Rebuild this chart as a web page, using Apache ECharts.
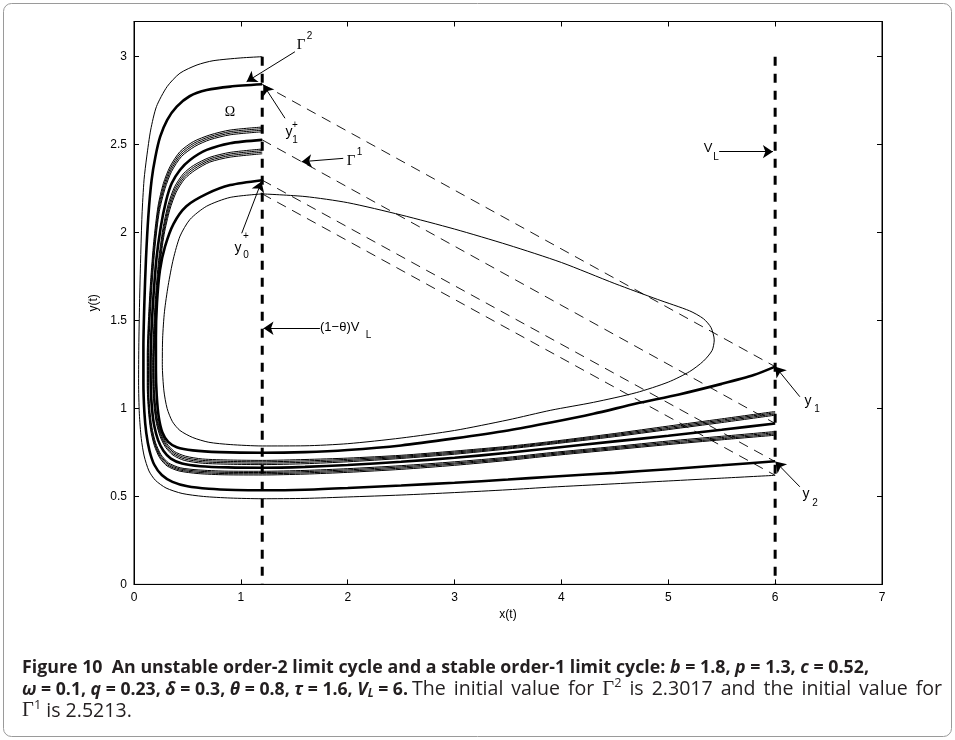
<!DOCTYPE html>
<html><head><meta charset="utf-8">
<script src="https://cdn.jsdelivr.net/npm/echarts@6/dist/echarts.min.js"></script>
<style>html,body{margin:0;padding:0;background:#fff;}#c{width:955px;height:740px;}</style>
</head><body><div id="c"></div>
<script>
// ---- axis ticks ----
const xTicks = [0, 1, 2, 3, 4, 5, 6, 7];
const yTicks = [0, 0.5, 1, 1.5, 2, 2.5, 3];

// ---- trajectories [x, y] ----
const curveOuter = [[1.2,3.0],[1.0,2.993],[0.74,2.977],[0.59,2.953],[0.43,2.906],[0.31,2.83],[0.21,2.716],[0.156,2.583],[0.119,2.43],[0.094,2.3],[0.075,2.1],[0.062,1.85],[0.052,1.6],[0.045,1.35],[0.043,1.15],[0.05,0.97],[0.068,0.83],[0.095,0.73],[0.14,0.645],[0.2,0.592],[0.3,0.548],[0.45,0.517],[0.65,0.5],[0.9,0.491],[1.2,0.487],[1.6,0.489],[2,0.497],[2.5,0.508],[3,0.522],[3.5,0.538],[3.9,0.553],[4.5,0.572],[5,0.588],[5.5,0.604],[6,0.62]];
const curveGamma2b = [[1.2,2.843],[0.9,2.83],[0.68,2.81],[0.52,2.775],[0.4,2.716],[0.31,2.64],[0.245,2.545],[0.2,2.43],[0.165,2.3],[0.135,2.1],[0.112,1.85],[0.097,1.6],[0.088,1.35],[0.088,1.15],[0.097,0.98],[0.115,0.86],[0.145,0.76],[0.19,0.68],[0.26,0.622],[0.36,0.583],[0.5,0.558],[0.7,0.544],[0.95,0.537],[1.2,0.535],[1.6,0.538],[2,0.548],[2.5,0.562],[3,0.578],[3.5,0.596],[3.9,0.612],[4.5,0.634],[5,0.655],[5.5,0.677],[6,0.70]];
const curveA1 = [[1.2,2.6],[0.9,2.583],[0.71,2.555],[0.555,2.517],[0.43,2.46],[0.337,2.375],[0.275,2.28],[0.225,2.15],[0.185,1.95],[0.155,1.72],[0.135,1.5],[0.124,1.3],[0.124,1.13],[0.135,0.99],[0.155,0.88],[0.19,0.79],[0.24,0.72],[0.31,0.673],[0.42,0.645],[0.6,0.63],[0.85,0.623],[1.2,0.622],[1.6,0.627],[2,0.637],[2.5,0.654],[3,0.677],[3.5,0.705],[3.9,0.731],[4.5,0.766],[5,0.795],[5.5,0.822],[6,0.848]];
const curveA2 = [[1.2,2.591],[0.9,2.574],[0.71,2.546],[0.56,2.508],[0.435,2.451],[0.342,2.366],[0.28,2.27],[0.229,2.14],[0.189,1.94],[0.159,1.71],[0.139,1.49],[0.128,1.3],[0.128,1.13],[0.139,0.99],[0.159,0.885],[0.194,0.795],[0.244,0.726],[0.314,0.679],[0.424,0.651],[0.6,0.637],[0.85,0.63],[1.2,0.629],[1.6,0.634],[2,0.644],[2.5,0.661],[3,0.684],[3.5,0.711],[3.9,0.737],[4.5,0.772],[5,0.801],[5.5,0.828],[6,0.855]];
const curveA3 = [[1.2,2.582],[0.9,2.565],[0.71,2.537],[0.565,2.499],[0.44,2.442],[0.347,2.357],[0.285,2.26],[0.233,2.13],[0.193,1.93],[0.163,1.7],[0.143,1.48],[0.132,1.3],[0.132,1.13],[0.143,0.995],[0.163,0.89],[0.198,0.8],[0.248,0.732],[0.318,0.685],[0.428,0.657],[0.6,0.644],[0.85,0.637],[1.2,0.636],[1.6,0.641],[2,0.651],[2.5,0.668],[3,0.69],[3.5,0.717],[3.9,0.743],[4.5,0.778],[5,0.808],[5.5,0.835],[6,0.862]];
const curveA4 = [[1.2,2.573],[0.9,2.556],[0.71,2.528],[0.57,2.49],[0.445,2.433],[0.352,2.348],[0.29,2.25],[0.237,2.12],[0.197,1.92],[0.167,1.69],[0.147,1.47],[0.136,1.3],[0.136,1.13],[0.147,1.0],[0.167,0.895],[0.202,0.805],[0.252,0.738],[0.322,0.691],[0.432,0.663],[0.6,0.651],[0.85,0.644],[1.2,0.643],[1.6,0.648],[2,0.658],[2.5,0.675],[3,0.697],[3.5,0.723],[3.9,0.749],[4.5,0.784],[5,0.815],[5.5,0.842],[6,0.869]];
const curveGamma1 = [[1.2,2.527],[0.9,2.508],[0.68,2.47],[0.524,2.413],[0.43,2.356],[0.353,2.28],[0.3,2.18],[0.25,2.03],[0.21,1.85],[0.18,1.62],[0.162,1.42],[0.155,1.25],[0.158,1.1],[0.17,0.99],[0.19,0.9],[0.225,0.82],[0.275,0.76],[0.345,0.715],[0.45,0.687],[0.62,0.672],[0.88,0.665],[1.2,0.663],[1.6,0.668],[2,0.679],[2.5,0.697],[3,0.72],[3.5,0.748],[3.9,0.774],[4.5,0.813],[5,0.845],[5.5,0.879],[6,0.915]];
const curveB1 = [[1.2,2.475],[0.9,2.456],[0.71,2.428],[0.555,2.381],[0.46,2.333],[0.38,2.26],[0.32,2.16],[0.27,2.02],[0.23,1.84],[0.2,1.62],[0.182,1.42],[0.175,1.26],[0.178,1.11],[0.19,1.0],[0.21,0.915],[0.245,0.84],[0.295,0.78],[0.365,0.735],[0.47,0.705],[0.64,0.689],[0.9,0.683],[1.2,0.681],[1.6,0.686],[2,0.697],[2.5,0.716],[3,0.74],[3.5,0.77],[3.9,0.797],[4.5,0.84],[5,0.88],[5.5,0.92],[6,0.962]];
const curveB2 = [[1.2,2.466],[0.9,2.447],[0.71,2.419],[0.56,2.372],[0.465,2.324],[0.385,2.25],[0.325,2.15],[0.274,2.01],[0.234,1.83],[0.204,1.61],[0.186,1.41],[0.179,1.26],[0.182,1.11],[0.194,1.005],[0.214,0.92],[0.249,0.846],[0.299,0.787],[0.369,0.742],[0.474,0.713],[0.64,0.697],[0.9,0.691],[1.2,0.689],[1.6,0.694],[2,0.704],[2.5,0.722],[3,0.746],[3.5,0.775],[3.9,0.802],[4.5,0.846],[5,0.886],[5.5,0.927],[6,0.969]];
const curveB3 = [[1.2,2.457],[0.9,2.438],[0.71,2.41],[0.565,2.363],[0.47,2.315],[0.39,2.24],[0.33,2.14],[0.278,2.0],[0.238,1.82],[0.208,1.6],[0.19,1.4],[0.183,1.26],[0.186,1.11],[0.198,1.01],[0.218,0.925],[0.253,0.852],[0.303,0.794],[0.373,0.749],[0.478,0.721],[0.64,0.705],[0.9,0.699],[1.2,0.697],[1.6,0.702],[2,0.711],[2.5,0.728],[3,0.752],[3.5,0.78],[3.9,0.807],[4.5,0.852],[5,0.893],[5.5,0.934],[6,0.976]];
const curveB4 = [[1.2,2.448],[0.9,2.429],[0.71,2.401],[0.57,2.354],[0.475,2.306],[0.395,2.23],[0.335,2.13],[0.282,1.99],[0.242,1.81],[0.212,1.59],[0.194,1.39],[0.187,1.26],[0.19,1.11],[0.202,1.015],[0.222,0.93],[0.257,0.858],[0.307,0.801],[0.377,0.756],[0.482,0.729],[0.64,0.713],[0.9,0.707],[1.2,0.705],[1.6,0.71],[2,0.718],[2.5,0.734],[3,0.758],[3.5,0.785],[3.9,0.812],[4.5,0.858],[5,0.9],[5.5,0.941],[6,0.983]];
const curveGamma2a = [[1.2,2.298],[0.9,2.27],[0.68,2.22],[0.49,2.15],[0.37,2.05],[0.29,1.92],[0.243,1.787],[0.215,1.6],[0.205,1.4],[0.205,1.22],[0.213,1.07],[0.232,0.95],[0.265,0.865],[0.32,0.81],[0.4,0.78],[0.55,0.762],[0.8,0.752],[1.2,0.748],[1.6,0.752],[2,0.764],[2.5,0.79],[3,0.83],[3.5,0.875],[3.9,0.92],[4.3,0.97],[4.7,1.028],[5.1,1.08],[5.5,1.14],[5.8,1.19],[6,1.238]];
const curveInner = [[1.2,2.22],[0.9,2.2],[0.68,2.15],[0.524,2.075],[0.431,1.98],[0.368,1.85],[0.32,1.7],[0.285,1.55],[0.268,1.4],[0.265,1.25],[0.28,1.1],[0.31,1.0],[0.36,0.925],[0.43,0.875],[0.55,0.835],[0.7,0.808],[0.9,0.795],[1.2,0.787],[1.6,0.788],[2,0.8],[2.5,0.832],[3,0.875],[3.5,0.935],[3.9,0.99],[4.3,1.035],[4.7,1.09],[5.0,1.15],[5.2,1.21],[5.33,1.27],[5.41,1.33],[5.43,1.39],[5.4,1.46],[5.33,1.51],[5.2,1.555],[4.9,1.62],[4.5,1.71],[4.0,1.83],[3.5,1.93],[3.0,2.02],[2.5,2.1],[2.0,2.17],[1.6,2.205],[1.2,2.22]];

// impulse jumps: from (6, jumpFrom) to (1.2, jumpTo)
const jumpX0 = 6, jumpX1 = 1.2;
const jumpFrom = [1.238, 0.915, 0.698, 0.62];
const jumpTo = [2.843, 2.527, 2.298, 2.22];

// threshold lines
const vlineX = [1.2, 6];
const vlineTop = 3.0;

// annotation arrows [tailX, tailY, tipX, tipY] in data units
const arrowList = [
  [1.506, 3.028, 1.054, 2.858],
  [1.413, 2.650, 1.210, 2.840],
  [1.958, 2.422, 1.569, 2.403],
  [1.008, 1.996, 1.193, 2.290],
  [1.740, 1.456, 1.212, 1.456],
  [5.476, 2.460, 5.979, 2.460],
  [6.231, 1.067, 6.002, 1.238],
  [6.231, 0.555, 6.002, 0.698]
];

const thin = 1, thick = 2.6;
const curves = [
  [curveOuter, thin], [curveGamma2b, thick],
  [curveA1, thin], [curveA2, thin], [curveA3, thin], [curveA4, thin],
  [curveGamma1, thick],
  [curveB1, thin], [curveB2, thin], [curveB3, thin], [curveB4, thin],
  [curveGamma2a, thick], [curveInner, thin]
];

const chart = echarts.init(document.getElementById('c'));
const series = [];
curves.forEach(function (c) {
  series.push({type: 'line', data: c[0], symbol: 'none', showSymbol: false, smooth: 0.25, silent: true,
    lineStyle: {color: '#000', width: c[1]}, z: 3});
});
jumpFrom.forEach(function (yf, i) {
  series.push({type: 'line', data: [[jumpX1, jumpTo[i]], [jumpX0, yf]], symbol: 'none', silent: true,
    lineStyle: {color: '#000', width: 0.9, type: [10, 7]}, z: 2});
});
vlineX.forEach(function (vx) {
  series.push({type: 'line', data: [[vx, vlineTop], [vx, 0]], symbol: 'none', silent: true,
    lineStyle: {color: '#000', width: 3, type: [9, 8]}, z: 4});
});
// annotation arrows
series.push({type: 'lines', coordinateSystem: 'cartesian2d', silent: true, z: 6,
  symbol: ['none', 'arrow'], symbolSize: 10,
  lineStyle: {color: '#000', width: 1, opacity: 1},
  data: arrowList.map(function (a) { return {coords: [[a[0], a[1]], [a[2], a[3]]]}; })});

const axisFont = {color: '#000', fontSize: 12, fontFamily: 'Liberation Sans'};
const option = {
  animation: false,
  backgroundColor: '#fff',
  grid: {left: 134, right: 73, top: 21.5, bottom: 155.6, show: true, borderColor: '#000', borderWidth: 1, containLabel: false},
  xAxis: [
    {type: 'value', min: xTicks[0], max: xTicks[xTicks.length - 1], interval: 1, position: 'bottom',
      axisLine: {show: true, onZero: false, lineStyle: {color: '#000'}},
      axisTick: {show: true, inside: true, length: 5, lineStyle: {color: '#000'}},
      axisLabel: Object.assign({margin: 7}, axisFont), splitLine: {show: false},
      name: 'x(t)', nameLocation: 'middle', nameGap: 23, nameTextStyle: axisFont},
    {type: 'value', min: xTicks[0], max: xTicks[xTicks.length - 1], interval: 1, position: 'top',
      axisLine: {show: true, onZero: false, lineStyle: {color: '#000'}},
      axisTick: {show: true, inside: true, length: 5, lineStyle: {color: '#000'}},
      axisLabel: {show: false}, splitLine: {show: false}}
  ],
  yAxis: [
    {type: 'value', min: yTicks[0], max: 3.2, interval: 0.5, position: 'left',
      axisLine: {show: true, onZero: false, lineStyle: {color: '#000'}},
      axisTick: {show: true, inside: true, length: 5, lineStyle: {color: '#000'}},
      axisLabel: Object.assign({margin: 7, showMaxLabel: false}, axisFont), splitLine: {show: false},
      name: 'y(t)', nameLocation: 'middle', nameGap: 25, nameRotate: 90, nameTextStyle: axisFont},
    {type: 'value', min: yTicks[0], max: 3.2, interval: 0.5, position: 'right',
      axisLine: {show: true, onZero: false, lineStyle: {color: '#000'}},
      axisTick: {show: true, inside: true, length: 5, lineStyle: {color: '#000'}},
      axisLabel: {show: false}, splitLine: {show: false}}
  ],
  series: series
};
chart.setOption(option);

// ---- text annotations ----
const sans = '"Liberation Sans", Arial, sans-serif';
const serif = '"Liberation Serif", "DejaVu Serif", serif';
function T(text, x, y, size, fam, align) {
  return {type: 'text', x: x, y: y, silent: true, z: 100,
    style: {text: text, fontSize: size, fontFamily: fam, fill: '#000', align: align || 'center', verticalAlign: 'middle'}};
}

// caption layout: widths of each run are matched to the figure
const capFam = '"Open Sans", Lato, sans-serif';
const mctx = document.createElement('canvas').getContext('2d');
function fontOf(s, size) {
  const sz = size * (s.k || 1);
  return {sz: sz, fam: s.serif ? serif : capFam,
    css: (s.it ? 'italic ' : '') + (s.bold ? 'bold ' : '') + sz + 'px ' + (s.serif ? serif : capFam)};
}
function widthAt(segs, size) {
  let w = 0;
  segs.forEach(function (s) { mctx.font = fontOf(s, size).css; w += mctx.measureText(s.t).width; });
  return w;
}
function capGroup(segs, x, y, target, size) {
  if (!size) size = 16 * target / widthAt(segs, 16);
  const natural = widthAt(segs, size);
  let nsp = 0;
  segs.forEach(function (s) { nsp += (s.t.match(/ /g) || []).length; });
  const addSp = nsp ? Math.max(0, target - natural) / nsp : 0;
  const out = [];
  let cx = x;
  segs.forEach(function (s) {
    const f = fontOf(s, size);
    mctx.font = f.css;
    const words = s.t.split(' ');
    words.forEach(function (wd, wi) {
      if (wd.length) {
        out.push({type: 'text', x: cx, y: y + (s.dy || 0) * size, silent: true, z: 100,
          style: {text: wd, fontSize: f.sz, fontFamily: f.fam, fontWeight: s.bold ? 'bold' : 'normal',
            fontStyle: s.it ? 'italic' : 'normal', fill: '#231f20', align: 'left', verticalAlign: 'middle'}});
        cx += mctx.measureText(wd).width;
      }
      if (wi < words.length - 1) cx += mctx.measureText(' ').width + addSp;
    });
  });
  return {els: out, size: size};
}
const line1 = [
  {t: 'Figure 10  An unstable order-2 limit cycle and a stable order-1 limit cycle: ', bold: 1},
  {t: 'b', bold: 1, it: 1}, {t: ' = 1.8, ', bold: 1}, {t: 'p', bold: 1, it: 1}, {t: ' = 1.3, ', bold: 1},
  {t: 'c', bold: 1, it: 1}, {t: ' = 0.52,', bold: 1}
];
const line2a = [
  {t: 'ω', bold: 1, it: 1}, {t: ' = 0.1, ', bold: 1}, {t: 'q', bold: 1, it: 1}, {t: ' = 0.23, ', bold: 1},
  {t: 'δ', bold: 1, it: 1}, {t: ' = 0.3, ', bold: 1}, {t: 'θ', bold: 1, it: 1}, {t: ' = 0.8, ', bold: 1},
  {t: 'τ', bold: 1, it: 1}, {t: ' = 1.6, ', bold: 1}, {t: 'V', bold: 1, it: 1}, {t: 'L', bold: 1, it: 1, k: 0.65, dy: 0.25},
  {t: ' = 6.', bold: 1}
];
const line2b = [
  {t: 'The initial value for '}, {t: 'Γ', serif: 1, k: 1.05}, {t: '2', k: 0.65, dy: -0.3},
  {t: ' is 2.3017 and the initial value for'}
];
const line3 = [{t: 'Γ', serif: 1, k: 1.05}, {t: '1', k: 0.65, dy: -0.3}, {t: ' is 2.5213.'}];
const g1 = capGroup(line1, 22, 668, 847, null);
const g2a = capGroup(line2a, 22, 689.5, 386, null);
const regSize = Math.min(g1.size * 1.1, 16 * 530 / widthAt(line2b, 16));
const g2b = capGroup(line2b, 412, 689.5, 530, regSize);
const g3 = capGroup(line3, 22, 711, 106, regSize);

chart.setOption({graphic: [
  {type: 'rect', shape: {x: 3.5, y: 3.5, width: 948, height: 733, r: 8}, silent: true, z: 0,
    style: {fill: 'none', stroke: '#9a9a9a', lineWidth: 1}},
  T('Γ', 301, 45, 15, serif), T('2', 309.5, 36.5, 10, sans),
  T('Ω', 230, 112.5, 14, serif),
  T('y', 289, 132, 14, sans), T('+', 295, 125, 10, sans), T('1', 295, 140, 10, sans),
  T('Γ', 351, 161, 15, serif), T('1', 359.5, 152, 10, sans),
  T('y', 238, 248, 14, sans), T('+', 246, 236, 10, sans), T('0', 246, 255, 10, sans),
  T('(1\u2212θ)V', 320, 327.5, 13, sans, 'left'), T('L', 368.5, 335, 10, sans),
  T('V', 708, 148, 13, sans), T('L', 716, 157.5, 10, sans),
  T('y', 808, 401, 14, sans), T('1', 817, 409, 10, sans),
  T('y', 806, 494, 14, sans), T('2', 815, 503, 10, sans)
].concat(g1.els, g2a.els, g2b.els, g3.els)});
</script></body></html>
